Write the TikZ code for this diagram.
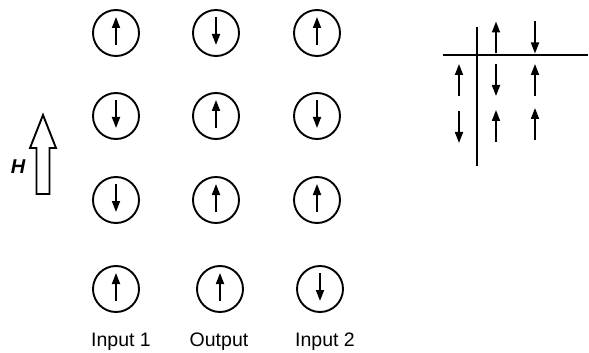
\documentclass[tikz,border=0pt]{standalone}
\usepackage{fontspec}
\setmainfont{Liberation Sans}
\usetikzlibrary{arrows.meta,positioning}

\begin{document}
\begin{tikzpicture}[
  x=0.5pt, y=-0.5pt,
  font=\fontsize{9.75}{11}\selectfont,
  spin/.style={draw, circle, line width=0.95pt, minimum size=23pt, inner sep=0pt},
  sarr/.style={-{Triangle[length=5.5pt,width=4pt]}, line width=0.85pt},
  hollow/.style={draw, line width=0.95pt, line join=miter},
  rule/.style={line width=0.95pt}
]
\useasboundingbox (0,0) rectangle (589,353);
% spin lattice
\node[spin] (s11) at (116,33) {};
\node[spin] (s12) at (216,33) {};
\node[spin] (s13) at (317,33) {};
\node[spin] (s21) at (116,116) {};
\node[spin] (s22) at (216,116) {};
\node[spin] (s23) at (317,116) {};
\node[spin] (s31) at (116,200) {};
\node[spin] (s32) at (216,200) {};
\node[spin] (s33) at (317,200) {};
\node[spin] (s41) at (116,289) {};
\node[spin] (s42) at (220,289) {};
\node[spin] (s43) at (320,289) {};
\draw[sarr] ([yshift=-6pt]s11.center) -- ([yshift=8pt]s11.center);
\draw[sarr] ([yshift=8pt]s12.center) -- ([yshift=-6pt]s12.center);
\draw[sarr] ([yshift=-6pt]s13.center) -- ([yshift=8pt]s13.center);
\draw[sarr] ([yshift=8pt]s21.center) -- ([yshift=-6pt]s21.center);
\draw[sarr] ([yshift=-6pt]s22.center) -- ([yshift=8pt]s22.center);
\draw[sarr] ([yshift=8pt]s23.center) -- ([yshift=-6pt]s23.center);
\draw[sarr] ([yshift=8pt]s31.center) -- ([yshift=-6pt]s31.center);
\draw[sarr] ([yshift=-6pt]s32.center) -- ([yshift=8pt]s32.center);
\draw[sarr] ([yshift=-6pt]s33.center) -- ([yshift=8pt]s33.center);
\draw[sarr] ([yshift=-6pt]s41.center) -- ([yshift=8pt]s41.center);
\draw[sarr] ([yshift=-6pt]s42.center) -- ([yshift=8pt]s42.center);
\draw[sarr] ([yshift=8pt]s43.center) -- ([yshift=-6pt]s43.center);
\node[anchor=base, inner sep=0pt] (in1) at (121,346.7) {Input 1};
\node[anchor=base, inner sep=0pt] (out) at (219,346.7) {Output};
\node[anchor=base, inner sep=0pt] (in2) at (325,346.7) {Input 2};
% field
\draw[hollow] (43,115) -- (56,148) -- (49.5,148) -- (49.5,194) -- (36.5,194)
  -- (36.5,148) -- (30,148) -- cycle;
\node[font=\fontsize{10}{11}\selectfont\bfseries\itshape] (field) at (18,167) {H};
% truth table
\coordinate (vtop) at (477,27);
\coordinate (vbot) at (477,166);
\coordinate (hl) at (443,55);
\coordinate (hr) at (588,55);
\draw[rule] (vtop) -- (vbot);
\draw[rule] (hl) -- (hr);
\coordinate (hA) at (496,37.5);
\coordinate (hB) at (535,37.5);
\coordinate (r1) at (459,80);
\coordinate (r2) at (459,127);
\coordinate (c1A) at (496,80);
\coordinate (c1B) at (535,80);
\coordinate (c2A) at (496,126);
\coordinate (c2B) at (535,124);
\draw[sarr] ([yshift=-8pt]hA) -- ([yshift=8pt]hA);
\draw[sarr] ([yshift=8pt]hB) -- ([yshift=-8pt]hB);
\draw[sarr] ([yshift=-8pt]r1) -- ([yshift=8pt]r1);
\draw[sarr] ([yshift=8pt]r2) -- ([yshift=-8pt]r2);
\draw[sarr] ([yshift=8pt]c1A) -- ([yshift=-8pt]c1A);
\draw[sarr] ([yshift=-8pt]c1B) -- ([yshift=8pt]c1B);
\draw[sarr] ([yshift=-8pt]c2A) -- ([yshift=8pt]c2A);
\draw[sarr] ([yshift=-8pt]c2B) -- ([yshift=8pt]c2B);
\end{tikzpicture}
\end{document}
